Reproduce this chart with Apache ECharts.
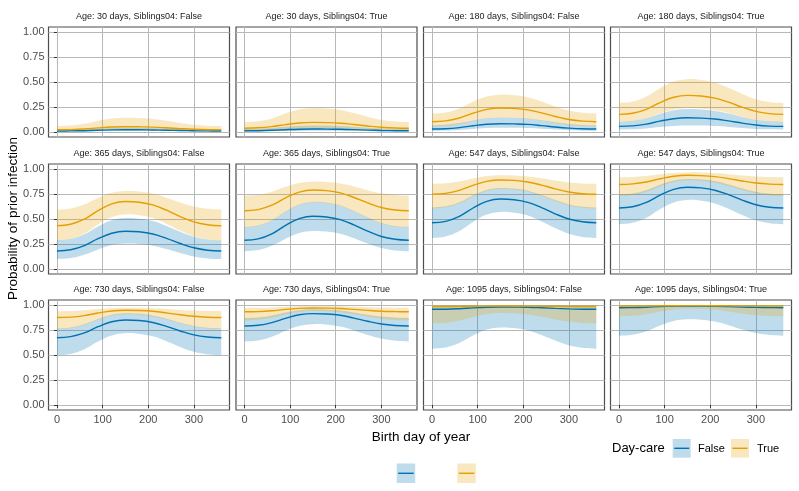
<!DOCTYPE html>
<html><head><meta charset="utf-8">
<script src="https://cdn.jsdelivr.net/npm/echarts@6/dist/echarts.min.js"></script>
<style>html,body{margin:0;padding:0;background:#fff}#c{width:799px;height:491px}</style>
</head><body><div id="c"></div>
<script>
// ---------- data ----------
const days = [0,30,60,90,120,150,180,210,240,270,300,330,360];
const panelAge = [30,30,180,180,365,365,547,547,730,730,1095,1095];
const panelSiblings = ['False','True','False','True','False','True','False','True','False','True','False','True'];
const xTicks = [0,100,200,300];
const yTicks = [0,0.25,0.5,0.75,1];
const groupNames = ['False','True'];

const falseLine = [
 [.010,.011,.013,.017,.021,.022,.022,.020,.018,.015,.012,.011,.010],
 [.012,.013,.017,.023,.028,.030,.029,.027,.024,.019,.015,.013,.012],
 [.030,.033,.044,.063,.078,.083,.081,.076,.064,.050,.039,.032,.030],
 [.056,.061,.079,.109,.133,.142,.139,.130,.111,.089,.070,.059,.056],
 [.180,.192,.234,.303,.358,.378,.372,.350,.307,.255,.212,.188,.180],
 [.287,.301,.352,.436,.503,.527,.520,.493,.441,.378,.325,.297,.287],
 [.462,.476,.526,.610,.676,.700,.693,.667,.614,.552,.500,.472,.462],
 [.610,.622,.666,.738,.796,.817,.811,.788,.743,.689,.643,.618,.610],
 [.673,.684,.721,.783,.832,.850,.845,.825,.786,.740,.701,.680,.673],
 [.790,.797,.824,.867,.902,.914,.910,.897,.869,.837,.810,.795,.790],
 [.957,.958,.963,.971,.978,.980,.979,.977,.972,.966,.961,.958,.957],
 [.973,.974,.978,.984,.988,.990,.989,.988,.984,.979,.976,.974,.973]
];
const falseLower = [
 [.004,.004,.006,.009,.011,.012,.012,.011,.009,.007,.005,.004,.004],
 [.005,.005,.007,.009,.011,.012,.012,.011,.009,.008,.006,.005,.005],
 [.012,.014,.020,.031,.040,.043,.042,.039,.032,.024,.017,.013,.012],
 [.025,.027,.036,.050,.061,.065,.064,.059,.051,.040,.031,.027,.025],
 [.100,.109,.142,.196,.240,.255,.250,.233,.199,.159,.125,.106,.100],
 [.177,.189,.232,.303,.360,.380,.374,.352,.307,.254,.210,.185,.177],
 [.310,.326,.380,.471,.544,.570,.562,.534,.476,.409,.352,.320,.310],
 [.448,.463,.513,.598,.666,.690,.683,.656,.603,.540,.487,.458,.448],
 [.497,.510,.557,.634,.696,.718,.711,.687,.638,.581,.532,.506,.497],
 [.636,.646,.682,.743,.791,.808,.803,.784,.746,.701,.664,.643,.636],
 [.563,.576,.620,.694,.754,.775,.769,.745,.699,.644,.597,.572,.563],
 [.693,.703,.737,.795,.841,.857,.852,.834,.798,.755,.719,.700,.693]
];
const falseUpper = [
 [.022,.023,.027,.033,.038,.040,.039,.037,.034,.029,.025,.023,.022],
 [.030,.032,.040,.052,.062,.065,.064,.060,.052,.043,.036,.031,.030],
 [.068,.073,.089,.116,.137,.145,.143,.134,.117,.097,.080,.071,.068],
 [.103,.111,.137,.182,.217,.230,.226,.212,.184,.151,.123,.108,.103],
 [.287,.300,.347,.425,.488,.510,.503,.479,.430,.372,.323,.296,.287],
 [.420,.435,.488,.575,.645,.670,.663,.635,.580,.515,.460,.430,.420],
 [.615,.627,.668,.736,.791,.810,.804,.783,.740,.689,.646,.623,.615],
 [.747,.756,.788,.842,.885,.900,.895,.879,.845,.805,.772,.753,.747],
 [.766,.775,.807,.860,.902,.917,.913,.896,.863,.823,.790,.772,.766],
 [.870,.875,.894,.924,.948,.957,.954,.945,.926,.903,.884,.874,.870],
 [.993,.993,.994,.995,.996,.997,.997,.996,.996,.995,.994,.993,.993],
 [.996,.996,.997,.998,.999,.999,.999,.999,.998,.997,.997,.996,.996]
];
const trueLine = [
 [.022,.024,.030,.041,.050,.053,.052,.049,.042,.034,.027,.023,.022],
 [.038,.042,.054,.074,.090,.096,.094,.088,.075,.060,.047,.040,.038],
 [.103,.111,.140,.188,.226,.240,.236,.221,.191,.155,.125,.109,.103],
 [.176,.187,.227,.294,.347,.366,.360,.339,.298,.248,.206,.184,.176],
 [.432,.447,.498,.583,.651,.675,.668,.641,.588,.524,.471,.442,.432],
 [.582,.594,.638,.711,.769,.790,.784,.761,.715,.661,.615,.590,.582],
 [.747,.756,.786,.836,.876,.890,.886,.870,.839,.801,.770,.753,.747],
 [.845,.851,.870,.902,.928,.937,.934,.924,.904,.880,.860,.849,.845],
 [.875,.879,.894,.920,.940,.947,.945,.937,.921,.902,.887,.878,.875],
 [.932,.934,.942,.956,.966,.970,.969,.965,.956,.946,.938,.934,.932],
 [.985,.985,.986,.988,.989,.990,.990,.989,.988,.987,.986,.985,.985],
 [.990,.990,.991,.992,.993,.994,.994,.993,.992,.991,.991,.990,.990]
];
const trueLower = [
 [.010,.011,.013,.016,.019,.020,.020,.019,.016,.014,.012,.010,.010],
 [.015,.016,.020,.027,.033,.035,.034,.032,.028,.023,.018,.016,.015],
 [.055,.060,.079,.111,.136,.145,.142,.132,.113,.089,.069,.059,.055],
 [.100,.108,.138,.187,.226,.240,.236,.220,.190,.153,.122,.106,.100],
 [.285,.301,.355,.446,.519,.545,.537,.509,.451,.384,.327,.295,.285],
 [.415,.430,.483,.570,.640,.665,.658,.630,.575,.510,.455,.425,.415],
 [.605,.617,.658,.726,.781,.800,.794,.773,.730,.679,.636,.613,.605],
 [.730,.739,.772,.826,.870,.885,.880,.863,.829,.789,.755,.736,.730],
 [.760,.769,.800,.851,.892,.907,.903,.886,.854,.816,.784,.766,.760],
 [.847,.853,.872,.905,.931,.940,.937,.927,.907,.882,.862,.851,.847],
 [.817,.823,.845,.881,.910,.920,.917,.906,.883,.856,.834,.821,.817],
 [.887,.892,.908,.934,.955,.963,.961,.952,.936,.916,.899,.890,.887]
];
const trueUpper = [
 [.060,.065,.082,.111,.134,.142,.140,.131,.113,.091,.073,.063,.060],
 [.098,.107,.136,.186,.226,.240,.236,.220,.189,.152,.121,.104,.098],
 [.185,.196,.236,.302,.354,.373,.367,.347,.305,.256,.215,.193,.185],
 [.290,.304,.354,.438,.504,.528,.521,.495,.442,.380,.328,.300,.290],
 [.595,.606,.645,.710,.762,.780,.775,.754,.713,.665,.625,.602,.595],
 [.735,.743,.773,.822,.861,.875,.871,.855,.825,.788,.757,.741,.735],
 [.853,.858,.876,.905,.929,.937,.935,.925,.907,.885,.866,.856,.853],
 [.917,.920,.930,.947,.961,.966,.965,.959,.948,.936,.925,.919,.917],
 [.938,.940,.948,.960,.970,.973,.972,.968,.960,.951,.944,.939,.938],
 [.971,.972,.976,.983,.988,.990,.989,.987,.983,.978,.974,.972,.971],
 [.996,.996,.997,.998,.999,.999,.999,.999,.998,.997,.997,.996,.996],
 [.998,.998,.999,.999,.999,.999,.999,.999,.999,.999,.999,.998,.998]
];

// ---------- layout / style ----------
const BLUE = '#0072B2', ORANGE = '#E69F00';
const colLeft = [48.5, 236, 423.5, 610.5];
const rowTop = [27, 164, 300];
const PW = 181, PH = 110;
const FONT = '"Liberation Sans", Arial, Helvetica, sans-serif';
const SM = 0.4;

// smooth control points (same scheme as ECharts line smoothing)
function ctrlPts(pts, s) {
  const n = pts.length, cps = [];
  for (let i = 0; i < n; i++) {
    const p = pts[i], p0 = pts[i - 1] || p, p2 = pts[i + 1] || p;
    const vx = p2[0] - p0[0], vy = p2[1] - p0[1];
    let d0 = Math.hypot(p[0] - p0[0], p[1] - p0[1]);
    let d1 = Math.hypot(p2[0] - p[0], p2[1] - p[1]);
    const sum = d0 + d1;
    if (sum) { d0 /= sum; d1 /= sum; }
    cps.push({prev: [p[0] - vx * s * d0, p[1] - vy * s * d0], next: [p[0] + vx * s * d1, p[1] + vy * s * d1]});
  }
  return cps;
}
function smoothPath(pts, s, moveFirst) {
  const cps = ctrlPts(pts, s);
  let d = (moveFirst ? 'M' : 'L') + pts[0][0].toFixed(2) + ' ' + pts[0][1].toFixed(2);
  for (let i = 1; i < pts.length; i++) {
    const a = cps[i - 1].next, b = cps[i].prev, p = pts[i];
    d += ' C' + a[0].toFixed(2) + ' ' + a[1].toFixed(2) + ' ' + b[0].toFixed(2) + ' ' + b[1].toFixed(2) + ' ' + p[0].toFixed(2) + ' ' + p[1].toFixed(2);
  }
  return d;
}

const grids = [], xAxes = [], yAxes = [], series = [], graphics = [];

for (let i = 0; i < 12; i++) {
  const r = Math.floor(i / 4), c = i % 4;
  grids.push({left: colLeft[c], top: rowTop[r], width: PW, height: PH,
    show: true, borderColor: '#4d4d4d', borderWidth: 1.2, backgroundColor: '#fff', containLabel: false});
  xAxes.push({gridIndex: i, type: 'value', min: -18.5, max: 378,
    axisLine: {show: false},
    axisTick: {show: r === 2, customValues: xTicks, length: 3, lineStyle: {color: '#333'}},
    axisLabel: {show: r === 2, customValues: xTicks, fontSize: 11, color: '#4d4d4d', margin: 4, fontFamily: FONT},
    splitLine: {show: true, lineStyle: {color: '#b8b8b8', width: 1}}});
  yAxes.push({gridIndex: i, type: 'value', min: -0.05, max: 1.05,
    axisLine: {show: false},
    axisTick: {show: c === 0, customValues: yTicks, length: 3, lineStyle: {color: '#333'}},
    axisLabel: {show: c === 0, customValues: yTicks, formatter: v => v.toFixed(2), fontSize: 11, color: '#4d4d4d', margin: 4, fontFamily: FONT},
    splitLine: {show: true, lineStyle: {color: '#b8b8b8', width: 1}}});

  const groups = [
    {lo: falseLower[i], hi: falseUpper[i], ln: falseLine[i], col: BLUE, name: groupNames[0]},
    {lo: trueLower[i], hi: trueUpper[i], ln: trueLine[i], col: ORANGE, name: groupNames[1]}
  ];
  groups.forEach(g => {
    series.push({type: 'custom', xAxisIndex: i, yAxisIndex: i, silent: true,
      encode: {x: 0, y: [1, 2]},
      data: days.map((d, k) => [d, g.lo[k], g.hi[k]]),
      renderItem: (params, api) => {
        if (params.dataIndex !== 0) return null;
        const up = days.map((d, k) => api.coord([d, g.hi[k]]));
        const lo = days.map((d, k) => api.coord([d, g.lo[k]])).reverse();
        const pathData = smoothPath(up, SM, true) + ' ' + smoothPath(lo, SM, false) + ' Z';
        return {type: 'path', shape: {pathData: pathData}, style: {fill: g.col, opacity: 0.25}};
      }});
  });
  groups.forEach(g => {
    series.push({type: 'line', xAxisIndex: i, yAxisIndex: i, symbol: 'none', smooth: SM, silent: true,
      lineStyle: {color: g.col, width: 1.4}, data: days.map((d, k) => [d, g.ln[k]])});
  });

  graphics.push({type: 'text', x: colLeft[c] + PW / 2, y: rowTop[r] - 10.3,
    style: {text: 'Age: ' + panelAge[i] + ' days, Siblings04: ' + panelSiblings[i], fill: '#1a1a1a',
      font: '9px ' + FONT, textAlign: 'center', textVerticalAlign: 'middle'}});
}

// axis titles
graphics.push({type: 'text', x: 421, y: 437.5,
  style: {text: 'Birth day of year', fill: '#000', font: '13.5px ' + FONT, textAlign: 'center', textVerticalAlign: 'middle'}});
graphics.push({type: 'text', x: 13.5, y: 218.5, rotation: Math.PI / 2,
  style: {text: 'Probability of prior infection', fill: '#000', font: '13.5px ' + FONT, textAlign: 'center', textVerticalAlign: 'middle'}});

// legend 1
graphics.push({type: 'text', x: 612, y: 448.5,
  style: {text: 'Day-care', fill: '#000', font: '13px ' + FONT, textAlign: 'left', textVerticalAlign: 'middle'}});
const legKeys = [
  {x: 672.7, col: BLUE, label: groupNames[0], lx: 698},
  {x: 731, col: ORANGE, label: groupNames[1], lx: 757}
];
legKeys.forEach(k => {
  graphics.push({type: 'rect', shape: {x: k.x, y: 439, width: 18, height: 18.7}, style: {fill: k.col, opacity: 0.25}});
  graphics.push({type: 'line', shape: {x1: k.x + 1.5, y1: 448.3, x2: k.x + 16.5, y2: 448.3}, style: {stroke: k.col, lineWidth: 1.4}});
  graphics.push({type: 'text', x: k.lx, y: 448.5,
    style: {text: k.label, fill: '#000', font: '11px ' + FONT, textAlign: 'left', textVerticalAlign: 'middle'}});
});
// legend 2 (keys only)
[{x: 396.7, col: BLUE}, {x: 457.3, col: ORANGE}].forEach(k => {
  graphics.push({type: 'rect', shape: {x: k.x, y: 463.5, width: 18.5, height: 19.5}, style: {fill: k.col, opacity: 0.25}});
  graphics.push({type: 'line', shape: {x1: k.x + 1.5, y1: 473.3, x2: k.x + 17, y2: 473.3}, style: {stroke: k.col, lineWidth: 1.4}});
});

const chart = echarts.init(document.getElementById('c'), null, {renderer: 'canvas'});
chart.setOption({
  animation: false,
  backgroundColor: '#fff',
  textStyle: {fontFamily: FONT},
  grid: grids, xAxis: xAxes, yAxis: yAxes, series: series,
  graphic: graphics
});
</script></body></html>
